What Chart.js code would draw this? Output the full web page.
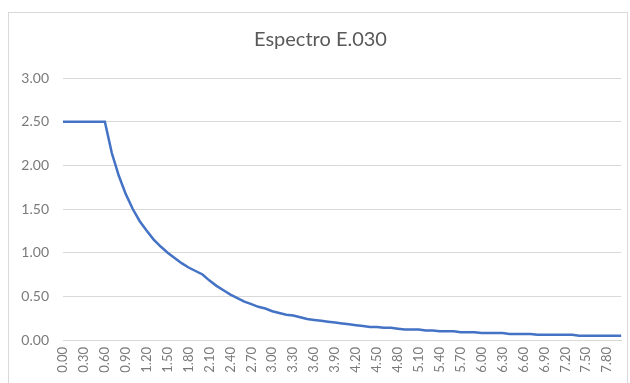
<!DOCTYPE html>
<html>
<head>
<meta charset="utf-8">
<script src="https://cdn.jsdelivr.net/npm/chart.js@4.4.1/dist/chart.umd.min.js"></script>
<style>
    html, body { margin: 0; padding: 0; background: #ffffff; overflow: hidden; }
    #frame { position: absolute; left: 8px; top: 12px; width: 618px; height: 400px; border: 1px solid #d9d9d9; }
    #wrap { position: absolute; left: 0; top: 0; width: 630px; height: 383px; }
</style>
</head>
<body>
<div id="frame"></div>
<div id="wrap"><canvas id="grafik" width="630" height="383"></canvas></div>
<script>
// periodo T (s), de 0.00 a 8.00 cada 0.10
const periodos = [
    0.0, 0.1, 0.2, 0.3, 0.4, 0.5, 0.6, 0.7, 0.8, 0.9,
    1.0, 1.1, 1.2, 1.3, 1.4, 1.5, 1.6, 1.7, 1.8, 1.9,
    2.0, 2.1, 2.2, 2.3, 2.4, 2.5, 2.6, 2.7, 2.8, 2.9,
    3.0, 3.1, 3.2, 3.3, 3.4, 3.5, 3.6, 3.7, 3.8, 3.9,
    4.0, 4.1, 4.2, 4.3, 4.4, 4.5, 4.6, 4.7, 4.8, 4.9,
    5.0, 5.1, 5.2, 5.3, 5.4, 5.5, 5.6, 5.7, 5.8, 5.9,
    6.0, 6.1, 6.2, 6.3, 6.4, 6.5, 6.6, 6.7, 6.8, 6.9,
    7.0, 7.1, 7.2, 7.3, 7.4, 7.5, 7.6, 7.7, 7.8, 7.9,
    8.0
]
// factor C
const factorC = [
    2.50, 2.50, 2.50, 2.50, 2.50, 2.50, 2.50, 2.14, 1.88, 1.67,
    1.50, 1.36, 1.25, 1.15, 1.07, 1.00, 0.94, 0.88, 0.83, 0.79,
    0.75, 0.68, 0.62, 0.57, 0.52, 0.48, 0.44, 0.41, 0.38, 0.36,
    0.33, 0.31, 0.29, 0.28, 0.26, 0.24, 0.23, 0.22, 0.21, 0.20,
    0.19, 0.18, 0.17, 0.16, 0.15, 0.15, 0.14, 0.14, 0.13, 0.12,
    0.12, 0.12, 0.11, 0.11, 0.10, 0.10, 0.10, 0.09, 0.09, 0.09,
    0.08, 0.08, 0.08, 0.08, 0.07, 0.07, 0.07, 0.07, 0.06, 0.06,
    0.06, 0.06, 0.06, 0.06, 0.05, 0.05, 0.05, 0.05, 0.05, 0.05,
    0.05
]
const ejeY = [0, 0.5, 1.0, 1.5, 2.0, 2.5, 3.0]

const gris = '#7a7a7a'
const fuente = 'Lato, "Open Sans", sans-serif'

const ctx = document.getElementById('grafik')
const myChart = new Chart(ctx, {
    type: 'line',
    data: {
        labels: periodos.map(t => t.toFixed(2)),
        datasets: [{
            label: 'C',
            data: factorC,
            borderColor: '#4472C4',
            backgroundColor: '#4472C4',
            borderWidth: 2.5,
            pointRadius: 0,
            tension: 0,
            fill: false
        }]
    },
    options: {
        responsive: false,
        animation: false,
        layout: { padding: { left: 19, right: 8, top: 0, bottom: 0 } },
        plugins: {
            legend: { display: false },
            tooltip: { enabled: false },
            title: {
                display: true,
                text: 'Espectro E.030',
                color: '#595959',
                font: { family: fuente, size: 20, weight: 'normal' },
                padding: { top: 28, bottom: 26 }
            }
        },
        scales: {
            x: {
                offset: false,
                grid: { display: false, drawTicks: false },
                border: { color: '#d9d9d9' },
                ticks: {
                    autoSkip: false,
                    maxRotation: 90,
                    minRotation: 90,
                    padding: 7,
                    color: gris,
                    font: { family: fuente, size: 13 },
                    callback: function (v, i) { return i % 3 === 0 ? this.getLabelForValue(v) : null }
                },
                afterFit: s => { s.height = 43 }
            },
            y: {
                min: 0,
                max: 3,
                afterBuildTicks: s => { s.ticks = ejeY.map(v => ({ value: v })) },
                grid: { color: '#d9d9d9', drawTicks: false },
                border: { display: false },
                ticks: {
                    padding: 14,
                    color: gris,
                    font: { family: fuente, size: 14 },
                    callback: v => Number(v).toFixed(2)
                },
                afterFit: s => { s.width = 44 }
            }
        }
    }
})
</script>
</body>
</html>
